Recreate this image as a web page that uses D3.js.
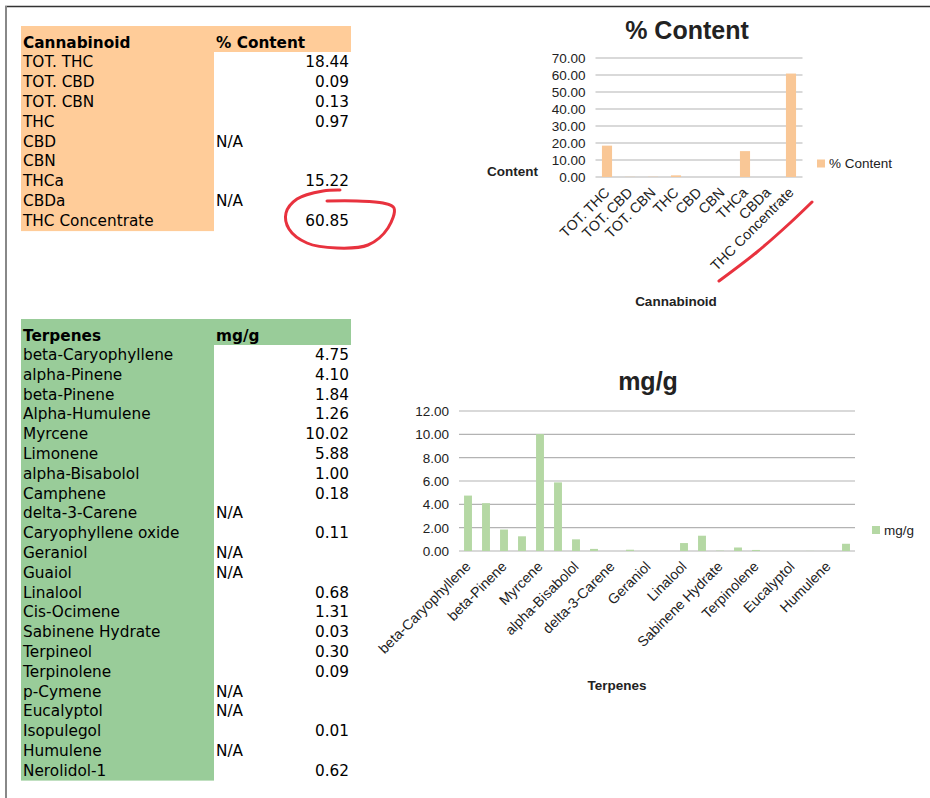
<!DOCTYPE html>
<html lang="en">
<head>
<meta charset="UTF-8">
<title>Cannabinoid and terpene content</title>
<script src="https://d3js.org/d3.v7.min.js"></script>
<style>
  body { margin: 0; background: #fff; }
  svg { display: block; }
  .cell { font-family: "DejaVu Sans", sans-serif; font-size: 15.3px; fill: #000; }
  .cell.head { font-weight: bold; }
  .chart text { font-family: "Liberation Sans", Arial, sans-serif; fill: #222; }
</style>
</head>
<body>
<svg id="svg" width="930" height="798"></svg>
<script>
// cannabinoid table / chart
const cannabinoids = ["TOT. THC", "TOT. CBD", "TOT. CBN", "THC", "CBD", "CBN", "THCa", "CBDa", "THC Concentrate"];
const contentText = ["18.44", "0.09", "0.13", "0.97", "N/A", "", "15.22", "N/A", "60.85"];
const contentTicks = [0, 10, 20, 30, 40, 50, 60, 70];

// terpene table / chart
const terpenes = ["beta-Caryophyllene", "alpha-Pinene", "beta-Pinene", "Alpha-Humulene", "Myrcene", "Limonene",
  "alpha-Bisabolol", "Camphene", "delta-3-Carene", "Caryophyllene oxide", "Geraniol", "Guaiol", "Linalool",
  "Cis-Ocimene", "Sabinene Hydrate", "Terpineol", "Terpinolene", "p-Cymene", "Eucalyptol", "Isopulegol",
  "Humulene", "Nerolidol-1"];
const mgText = ["4.75", "4.10", "1.84", "1.26", "10.02", "5.88", "1.00", "0.18", "N/A", "0.11", "N/A", "N/A",
  "0.68", "1.31", "0.03", "0.30", "0.09", "N/A", "N/A", "0.01", "N/A", "0.62"];
const mgTicks = [0, 2, 4, 6, 8, 10, 12];

const svg = d3.select("#svg");

// page frame
svg.append("line").attr("x1", 5).attr("x2", 930).attr("y1", 6.5).attr("y2", 6.5)
  .attr("stroke", "#333").attr("stroke-width", 1.5);
svg.append("line").attr("x1", 6).attr("x2", 6).attr("y1", 6).attr("y2", 798)
  .attr("stroke", "#888").attr("stroke-width", 2);

function drawTable(top, rowH, names, texts, head1, head2, fill) {
  const g = svg.append("g");
  const headH = 26;
  g.append("rect").attr("x", 21).attr("y", top).attr("width", 330).attr("height", headH).attr("fill", fill);
  g.append("rect").attr("x", 21).attr("y", top).attr("width", 193)
    .attr("height", headH + rowH * names.length).attr("fill", fill);
  g.append("text").attr("class", "cell head").attr("x", 23).attr("y", top + 21.5).text(head1);
  g.append("text").attr("class", "cell head").attr("x", 216).attr("y", top + 21.5).text(head2);
  names.forEach((n, i) => {
    const y = top + headH + rowH * (i + 0.5) + 5;
    g.append("text").attr("class", "cell").attr("x", 23).attr("y", y).text(n);
    const t = texts[i];
    if (t === "N/A") g.append("text").attr("class", "cell").attr("x", 216).attr("y", y).text(t);
    else if (t) g.append("text").attr("class", "cell").attr("x", 349).attr("y", y)
      .attr("text-anchor", "end").text(t);
  });
}

drawTable(26, 19.9, cannabinoids, contentText, "Cannabinoid", "% Content", "#ffcc99");
drawTable(319, 19.8, terpenes, mgText, "Terpenes", "mg/g", "#99cc99");

function drawChart(o) {
  const g = svg.append("g").attr("class", "chart");
  const data = o.names.map((n, i) => ({ name: n, value: parseFloat(o.texts[i]) }));
  const x = d3.scaleBand().domain(o.names).range([o.x0, o.x1]).paddingInner(0.56).paddingOuter(0.28);
  const y = d3.scaleLinear().domain([0, d3.max(o.ticks)]).range([o.y0, o.y1]);

  g.append("g").selectAll("line").data(o.ticks).join("line")
    .attr("x1", o.x0).attr("x2", o.x1)
    .attr("y1", d => y(d)).attr("y2", d => y(d))
    .attr("stroke", "#b3b3b3").attr("stroke-width", 1.2);

  g.append("g").selectAll("text").data(o.ticks).join("text")
    .attr("x", o.x0 - 10).attr("y", d => y(d)).attr("dy", "0.36em")
    .attr("text-anchor", "end").attr("font-size", 13.5).text(d => d.toFixed(2));

  g.append("g").selectAll("rect").data(data.filter(d => !isNaN(d.value))).join("rect")
    .attr("x", d => x(d.name)).attr("width", x.bandwidth())
    .attr("y", d => y(d.value)).attr("height", d => y(0) - y(d.value))
    .attr("fill", o.color);

  const shown = o.names.filter((n, i) => i % o.every === 0);
  const ax = g.append("g").attr("transform", `translate(0,${o.labelY})`)
    .call(d3.axisBottom(x).tickValues(shown).tickSize(0).tickPadding(0));
  ax.select(".domain").remove();
  ax.selectAll("text")
    .attr("font-size", 14.2).attr("fill", "#222").attr("font-family", "Liberation Sans, Arial, sans-serif")
    .attr("text-anchor", "end").attr("dy", "0.35em").attr("y", 0).attr("x", 0)
    .attr("transform", "rotate(-45)");

  g.append("text").attr("x", o.titleX).attr("y", o.titleY).attr("text-anchor", "middle")
    .attr("font-size", 25).attr("font-weight", "bold").attr("fill", "#000").text(o.title);
  g.append("text").attr("x", o.xTitleX).attr("y", o.xTitleY).attr("text-anchor", "middle")
    .attr("font-size", 13.5).attr("font-weight", "bold").attr("fill", "#000").text(o.xTitle);
  if (o.yTitle) g.append("text").attr("x", o.yTitleX).attr("y", o.yTitleY)
    .attr("font-size", 13.5).attr("font-weight", "bold").attr("fill", "#000").text(o.yTitle);

  g.append("rect").attr("x", o.legX).attr("y", o.legY - 4).attr("width", 8).attr("height", 8).attr("fill", o.color);
  g.append("text").attr("x", o.legX + 12).attr("y", o.legY).attr("dy", "0.36em")
    .attr("font-size", 13.5).text(o.legend);
}

drawChart({
  names: cannabinoids, texts: contentText, ticks: contentTicks, every: 1,
  x0: 595.5, x1: 802.5, y0: 177, y1: 58, labelY: 190, color: "#f9c796",
  title: "% Content", titleX: 687, titleY: 39,
  xTitle: "Cannabinoid", xTitleX: 676, xTitleY: 306,
  yTitle: "Content", yTitleX: 487, yTitleY: 176,
  legend: "% Content", legX: 817, legY: 163.5
});

drawChart({
  names: terpenes, texts: mgText, ticks: mgTicks, every: 2,
  x0: 459, x1: 855, y0: 551, y1: 411, labelY: 564, color: "#b5d8a4",
  title: "mg/g", titleX: 648, titleY: 390,
  xTitle: "Terpenes", xTitleX: 617, xTitleY: 690,
  legend: "mg/g", legX: 872, legY: 530
});

// red hand-drawn marks
const annotations = [
  [[340, 190], [323, 191], [297, 199], [286, 213], [289, 229], [307, 243], [337, 248], [368, 245],
   [388, 228], [394, 208], [383, 203], [357, 201], [327, 201]],
  [[719, 281], [757, 252], [790, 223], [812, 202]]
];
svg.append("g").selectAll("path").data(annotations).join("path")
  .attr("d", d3.line().curve(d3.curveCatmullRom))
  .attr("fill", "none").attr("stroke", "#e8323e").attr("stroke-width", 3)
  .attr("stroke-linecap", "round");
</script>
</body>
</html>
